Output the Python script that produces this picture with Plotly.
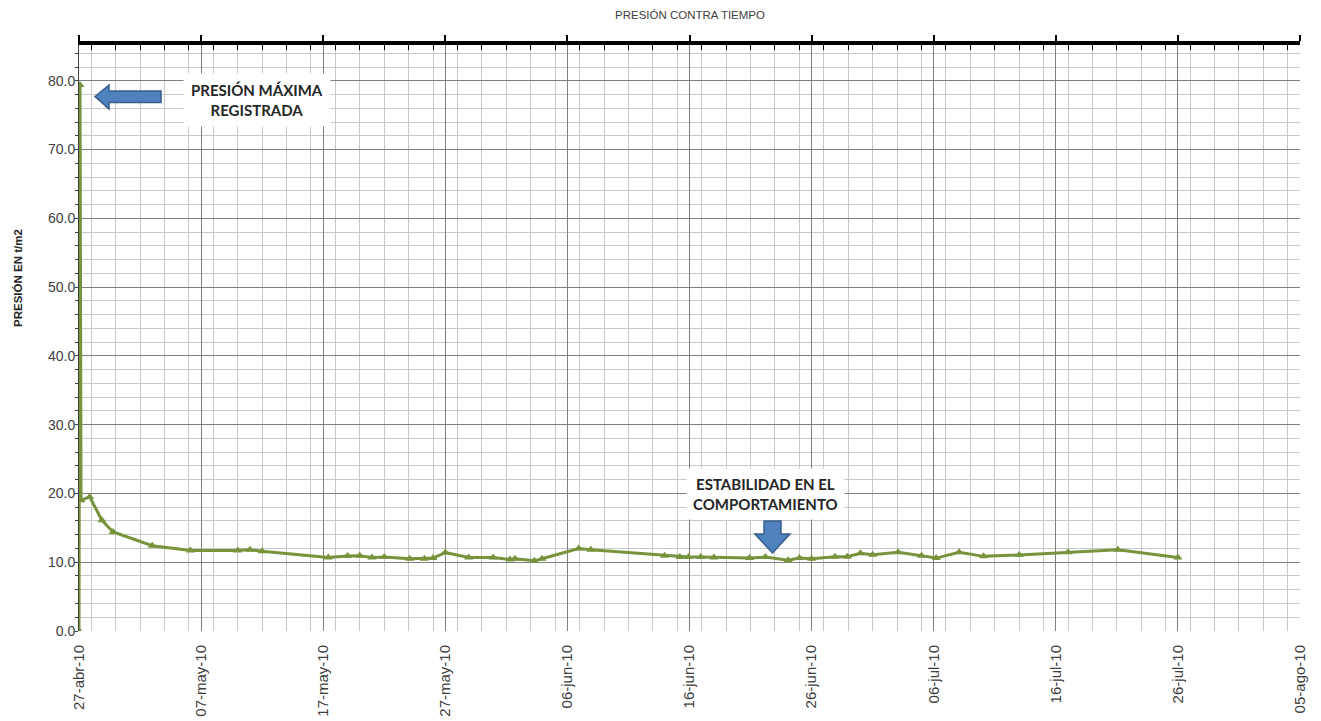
import plotly.graph_objects as go

# ---- data ----
fechas = [
    "2010-04-27 00:00", "2010-04-27 02:00", "2010-04-27 04:00", "2010-04-27 21:00",
    "2010-04-28 21:00", "2010-04-29 19:00", "2010-05-03 00:00", "2010-05-06 03:00",
    "2010-05-10 00:00", "2010-05-11 00:00", "2010-05-12 00:00", "2010-05-17 10:00",
    "2010-05-19 00:00", "2010-05-20 00:00", "2010-05-21 00:00", "2010-05-22 00:00",
    "2010-05-24 02:00", "2010-05-25 07:00", "2010-05-26 00:00", "2010-05-27 00:00",
    "2010-05-28 22:00", "2010-05-30 22:00", "2010-06-01 07:00", "2010-06-01 17:00",
    "2010-06-03 07:00", "2010-06-03 22:00", "2010-06-06 22:00", "2010-06-07 22:00",
    "2010-06-13 23:00", "2010-06-15 05:00", "2010-06-15 22:00", "2010-06-16 22:00",
    "2010-06-18 00:00", "2010-06-20 22:00", "2010-06-22 05:00", "2010-06-24 02:00",
    "2010-06-25 00:00", "2010-06-26 00:00", "2010-06-27 22:00", "2010-06-28 22:00",
    "2010-06-30 00:00", "2010-07-01 00:00", "2010-07-03 02:00", "2010-07-05 00:00",
    "2010-07-06 05:00", "2010-07-08 02:00", "2010-07-10 02:00", "2010-07-13 00:00",
    "2010-07-17 00:00", "2010-07-21 02:00", "2010-07-26 00:00",
]
presion = [
    0.0, 79.4, 19.0, 19.5,
    16.1, 14.4, 12.4, 11.7,
    11.7, 11.8, 11.6, 10.7,
    10.9, 10.95, 10.7, 10.75,
    10.5, 10.5, 10.6, 11.4,
    10.7, 10.7, 10.4, 10.5,
    10.2, 10.5, 12.0, 11.8,
    10.95, 10.75, 10.75, 10.75,
    10.7, 10.6, 10.75, 10.3,
    10.6, 10.5, 10.8, 10.8,
    11.3, 11.1, 11.45, 10.95,
    10.6, 11.45, 10.85, 11.05,
    11.45, 11.8, 10.7,
]
tick_fechas = ["2010-04-27", "2010-05-07", "2010-05-17", "2010-05-27", "2010-06-06",
               "2010-06-16", "2010-06-26", "2010-07-06", "2010-07-16", "2010-07-26",
               "2010-08-05"]
tick_textos = ["27-abr-10", "07-may-10", "17-may-10", "27-may-10", "06-jun-10",
               "16-jun-10", "26-jun-10", "06-jul-10", "16-jul-10", "26-jul-10",
               "05-ago-10"]
y_ticks = [0, 10, 20, 30, 40, 50, 60, 70, 80]

VERDE = "#77933C"
DAY = 86400000

fig = go.Figure()
fig.add_trace(go.Scatter(
    x=fechas, y=presion, mode="lines+markers",
    line=dict(color=VERDE, width=3),
    marker=dict(symbol="triangle-up", size=8, color=VERDE),
    showlegend=False, hoverinfo="x+y",
))
# invisible trace on top axis so it renders
fig.add_trace(go.Scatter(x=[tick_fechas[0]], y=[0], xaxis="x2", mode="markers",
                         marker=dict(opacity=0), showlegend=False, hoverinfo="skip"))

OFF = 8  # page body margin
L, R, T, B = 79, 1300, 45, 631     # plot area in screen pixels
W, H = 1321 - OFF, 721 - OFF       # figure size

def px(x):
    return (x - L) / (R - L)

def py(y):
    return (B - y) / (B - T)

fig.update_layout(
    width=W, height=H,
    margin=dict(l=L - OFF, r=1321 - R, t=T - OFF, b=721 - B),
    paper_bgcolor="white", plot_bgcolor="white",
    font=dict(family="Arial, Liberation Sans", size=12, color="#595959"),
    title=dict(text="PRESIÓN CONTRA TIEMPO", x=(690 - OFF) / W, xanchor="center",
               y=1 - (15 - OFF) / H, yanchor="middle",
               font=dict(size=11.5, color="#404040", family="Arial, Liberation Sans")),
    xaxis=dict(
        type="date", range=[tick_fechas[0], tick_fechas[-1]],
        tickvals=tick_fechas, ticktext=tick_textos, tickangle=-90,
        showgrid=True, gridcolor="#7f7f7f", gridwidth=1,
        minor=dict(dtick=2 * DAY, showgrid=True, gridcolor="#c8c8c8", gridwidth=1),
        showline=False, ticks="", zeroline=False, ticklabelstandoff=10,
        automargin=False,
        tickfont=dict(size=15, color="#404040"),
    ),
    xaxis2=dict(
        type="date", matches="x", overlaying="x", side="top",
        range=[tick_fechas[0], tick_fechas[-1]],
        tickvals=tick_fechas, showticklabels=False, showgrid=False,
        showline=True, linecolor="black", linewidth=3.5, automargin=False,
        ticks="outside", ticklen=6, tickcolor="black", tickwidth=2,
        minor=dict(dtick=2 * DAY, ticks="inside", ticklen=5, tickcolor="black",
                   tickwidth=1, showgrid=False),
    ),
    yaxis=dict(
        range=[0, 85.2], tickvals=y_ticks, tickformat=".1f",
        showgrid=True, gridcolor="#7f7f7f", gridwidth=1,
        minor=dict(dtick=2, showgrid=True, gridcolor="#c8c8c8", gridwidth=1,
                   ticks="outside", ticklen=3, tickcolor="#404040"),
        showline=True, linecolor="#404040", linewidth=1,
        ticks="", zeroline=False, automargin=False,
        tickfont=dict(size=14, color="#404040"),
    ),
)

# y axis title (placed like the original, above centre)
fig.add_annotation(xref="paper", yref="paper", x=px(18), y=py(278),
                   xanchor="center", yanchor="middle", textangle=-90,
                   text="<b>PRESIÓN EN t/m2</b>", showarrow=False,
                   font=dict(family="Arial, Liberation Sans", size=11.5, color="#262626"))

# annotation boxes
fig.add_annotation(xref="paper", yref="paper", x=px(257), y=py(100),
                   xanchor="center", yanchor="middle",
                   text="<b>PRESIÓN MÁXIMA<br>REGISTRADA</b>", showarrow=False,
                   bgcolor="white", borderpad=7,
                   font=dict(family="Lato, Open Sans", size=15, color="#262626"))
fig.add_annotation(xref="paper", yref="paper", x=px(765), y=py(494),
                   xanchor="center", yanchor="middle",
                   text="<b>ESTABILIDAD EN EL<br>COMPORTAMIENTO</b>", showarrow=False,
                   bgcolor="white", borderpad=6,
                   font=dict(family="Lato, Open Sans", size=15, color="#262626"))

# block arrows (decorative)
def path(pts):
    return "M " + " L ".join(f"{px(a):.5f},{py(b):.5f}" for a, b in pts) + " Z"

left_arrow = [(95, 96.5), (109, 85), (109, 91), (161, 91), (161, 102.5),
              (109, 102.5), (109, 109)]
down_arrow = [(764, 521), (781, 521), (781, 534), (790, 534), (772.5, 553),
              (755, 534), (764, 534)]
for pts in (left_arrow, down_arrow):
    fig.add_shape(type="path", xref="paper", yref="paper", path=path(pts),
                  fillcolor="#4F81BD", line=dict(color="#385D8A", width=1.5))

fig.write_html("out.html")
